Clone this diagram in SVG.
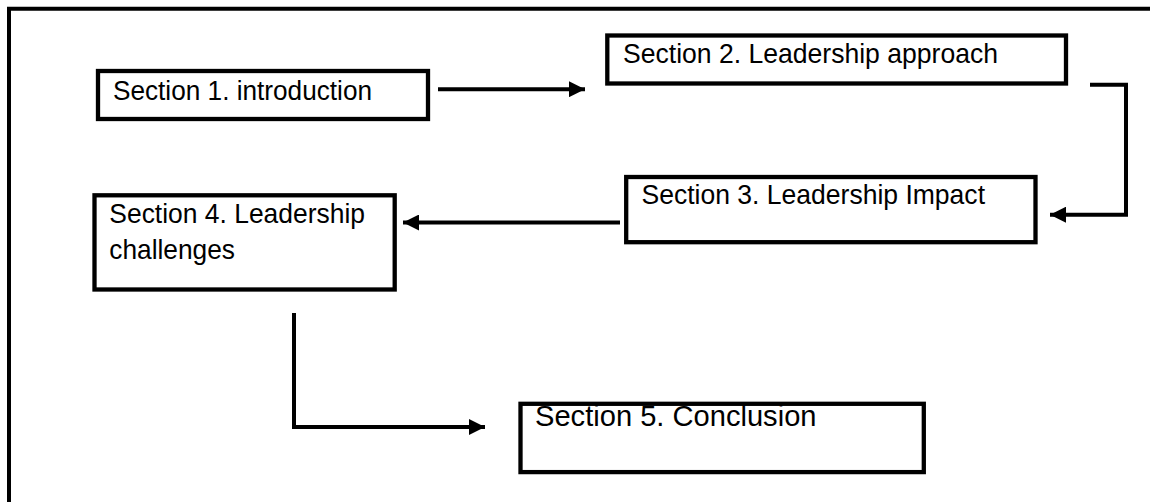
<svg xmlns="http://www.w3.org/2000/svg" width="1150" height="502" viewBox="0 0 1150 502">
  <style>
    .box { fill: #fff; stroke: #000; stroke-width: 4.3; }
    .lbl { font-family: "Liberation Sans", Arial, sans-serif; font-size: 27.5px; fill: #000; }
    .big { font-size: 30px; }
    .conn { fill: none; stroke: #000; stroke-width: 4; }
    .frame { fill: none; stroke: #000; stroke-width: 4; }
  </style>
  <defs>
    <marker id="head" markerUnits="userSpaceOnUse" markerWidth="16" markerHeight="16" refX="16" refY="8" orient="auto">
      <path d="M0,0 L16,8 L0,16 Z" fill="#000"/>
    </marker>
  </defs>

  <rect width="1150" height="502" fill="#fff"/>
  <!-- page border: left and top edges only -->
  <path class="frame" d="M9,502 V8.8 H1150"/>

  <g id="connectors">
    <path class="conn" d="M438,89.2 H585" marker-end="url(#head)"/>
    <path class="conn" d="M1090,84.7 H1126 V214.7 H1050" marker-end="url(#head)"/>
    <path class="conn" d="M620,222.5 H403" marker-end="url(#head)"/>
    <path class="conn" d="M294,313 V427 H485" marker-end="url(#head)"/>
  </g>

  <g id="section1">
    <rect class="box" x="98" y="71" width="330" height="48"/>
    <text class="lbl" x="113" y="100" textLength="259" lengthAdjust="spacingAndGlyphs">Section 1. introduction</text>
  </g>

  <g id="section2">
    <rect class="box" x="607.3" y="35.5" width="458.7" height="48"/>
    <text class="lbl" x="623" y="63" textLength="375" lengthAdjust="spacingAndGlyphs">Section 2. Leadership approach</text>
  </g>

  <g id="section3">
    <rect class="box" x="626.2" y="177" width="409.3" height="65.2"/>
    <text class="lbl" x="641.5" y="204" textLength="343.5" lengthAdjust="spacingAndGlyphs">Section 3. Leadership Impact</text>
  </g>

  <g id="section4">
    <rect class="box" x="94.5" y="195.3" width="300.2" height="94.2"/>
    <text class="lbl" x="109.3" y="222.5" textLength="255.7" lengthAdjust="spacingAndGlyphs">Section 4. Leadership</text>
    <text class="lbl" x="109.3" y="259" textLength="125.7" lengthAdjust="spacingAndGlyphs">challenges</text>
  </g>

  <g id="section5">
    <rect class="box" x="520.5" y="403.8" width="403.3" height="68.3"/>
    <text class="lbl big" x="535" y="426" textLength="281.5" lengthAdjust="spacingAndGlyphs">Section 5. Conclusion</text>
  </g>
</svg>
